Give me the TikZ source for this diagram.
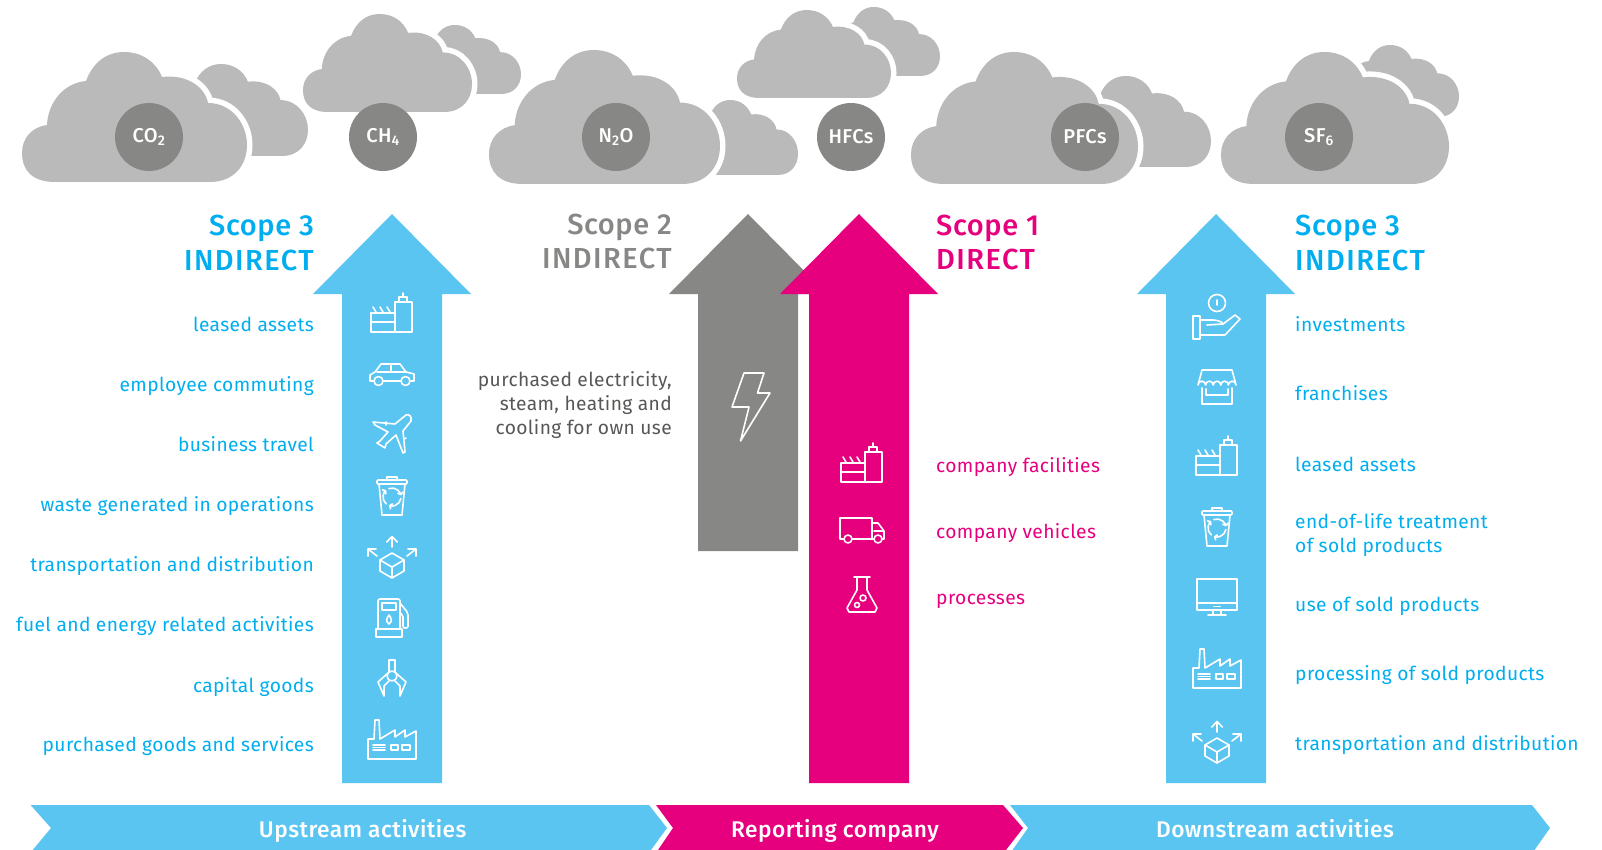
\documentclass[tikz,border=0pt]{standalone}
\usepackage{fontspec}
\setmainfont{Fira Sans}[LetterSpace=2]
\newfontfamily\medfont{Fira Sans Medium}[LetterSpace=2]
\usetikzlibrary{arrows.meta}
\definecolor{arrowblue}{HTML}{5BC5F2}
\definecolor{textblue}{HTML}{00AEEF}
\definecolor{scopepink}{HTML}{E6007E}
\definecolor{arrowgrey}{HTML}{878786}
\definecolor{cloudgrey}{HTML}{BABABA}
\definecolor{darktext}{HTML}{575756}
\newcommand{\cloudpath}{(33,130) .. controls (10,130) and (0,118) .. (0,101)
  .. controls (0,86) and (10,75) .. (25,73) .. controls (26,50) and (42,31) .. (64,29)
  .. controls (71,10) and (85,0) .. (102,0) .. controls (120,0) and (134,10) .. (140,25)
  .. controls (165,22) and (183,35) .. (186,51) .. controls (210,51) and (225,72) .. (225,93)
  .. controls (225,113) and (212,130) .. (188,130) -- cycle}
\newcommand{\backcloud}[4]{\fill[cloudgrey,shift={(#1,#2)},xscale=#3/225,yscale=#4/130] \cloudpath;}
\newcommand{\frontcloud}[4]{\fill[cloudgrey,preaction={draw=white,line width=11pt},shift={(#1,#2)},xscale=#3/225,yscale=#4/130] \cloudpath;}
\newcommand{\bigarrow}[4]{\fill[#4] (#1,214) -- ++(79,80) -- ++(-29,0) |- (#1-50,#3) |- (#1-50,294) -- ++(-29,0) -- cycle;}
\newcommand{\capsword}[1]{{\addfontfeature{LetterSpace=5}#1}}
\tikzset{
  iconline/.style={draw=white,line width=1.6pt,line join=round,line cap=round},
  gasnode/.style={circle,fill=arrowgrey,text=white,minimum size=68pt,inner sep=0pt,font=\medfont\fontsize{20}{22}\selectfont},
  listlabel/.style={font=\fontsize{19.2}{24}\selectfont,inner sep=0pt},
  leftlabel/.style={listlabel,anchor=mid east,yshift=-5pt,text=textblue},
  rightlabel/.style={listlabel,anchor=mid west,yshift=-5pt,text=textblue},
  pinklabel/.style={listlabel,anchor=mid west,yshift=-5pt,text=scopepink},
  blocklabel/.style={listlabel,align=left,anchor=west},
  scopetitle/.style={font=\medfont\fontsize{29}{34.5}\selectfont,inner sep=0pt},
  bandlabel/.style={anchor=mid,yshift=-6pt,text=white,font=\medfont\fontsize{22.7}{24}\selectfont,inner sep=0pt},
  pics/iconplant/.style={code={
    \draw[iconline] (4,-11) rectangle (21,19) (-20,0) rectangle (4,19) (-20,9) -- (4,9);
    \draw[iconline] (8,-11) -- (8,-16) -- (16,-16) -- (16,-11) (12,-16) -- (12,-20);
    \draw[iconline] (-18,-6) -- (-15,-1) (-11,-6) -- (-8,-1) (-4,-6) -- (-1,-1);
  }},
  pics/iconcar/.style={code={
    \draw[iconline] (-22,7) -- (-22,1) -- (-17,-2) -- (-11,-10) -- (8,-10) -- (14,-2) -- (22,0) -- (22,7) -- cycle;
    \draw[iconline] (-15,-2) -- (14,-2) (-1,-10) -- (-1,-2);
    \draw[iconline,fill=arrowblue] (-13.5,7) circle (4.5) (13.5,7) circle (4.5);
  }},
  pics/iconplane/.style={code={
    \draw[iconline] (19,-13) .. controls (20,-18) and (17,-20) .. (14,-19) -- (3,-10) -- (-19,-12) -- (-17,-9) -- (-4,-2)
      -- (-12,7) -- (-15,9) -- (-7,14) -- (-6,10) -- (4,1) -- (11,19) -- (13,18) -- (11,-3) -- cycle;
    \draw[iconline] (-6,-12) -- (-6,-9) (14,4) -- (12,5);
  }},
  pics/iconbin/.style={code={
    \draw[iconline,rounded corners=1pt] (-15,-16) rectangle (15,-12);
    \draw[iconline] (-5,-16) -- (-5,-19) -- (5,-19) -- (5,-16);
    \draw[iconline] (-13,-12) -- (-10,19) -- (10,19) -- (13,-12);
    \foreach \a in {10,130,250}
      \draw[iconline,-{Straight Barb[length=2pt,width=6pt]}] (0,1)+(\a:9) arc[start angle=\a,end angle=\a+100,radius=9];
  }},
  pics/iconboxes/.style={code={
    \draw[iconline] (0,-4) -- (12,3) -- (12,14) -- (0,21) -- (-12,14) -- (-12,3) -- cycle;
    \draw[iconline] (-12,3) -- (0,10) -- (12,3) (0,10) -- (0,21);
    \draw[iconline] (0,-10) -- (0,-20.5) (-5.3,-15) -- (0,-20.5) -- (5.3,-15);
    \draw[iconline] (-15,-1) -- (-24,-8) (-24,-1) -- (-24,-8) -- (-16,-8);
    \draw[iconline] (15,-1) -- (24,-8) (24,-1) -- (24,-8) -- (16,-8);
  }},
  pics/iconpump/.style={code={
    \draw[iconline,rounded corners=2pt] (-14,11) -- (-14,-19) -- (8,-19) -- (8,11);
    \draw[iconline] (-16,11) rectangle (10,19) (-10,-15) rectangle (4,-8);
    \draw[iconline] (-3,-3) .. controls (-1,0) and (1,3) .. (-3,6) .. controls (-7,3) and (-5,0) .. (-3,-3);
    \draw[iconline,rounded corners=2pt] (8,-15) -- (16,-5) -- (16,10) -- (11,10) -- (11,-3) -- (8,-5);
  }},
  pics/iconclaw/.style={code={
    \draw[iconline] (-3,-6) -- (-3,-18) -- (3,-18) -- (3,-6) (0,-2) circle (5);
    \draw[iconline] (-4,-5) -- (-14,4) -- (-8,18) -- (-8,8) -- (-3,3);
    \draw[iconline] (4,-5) -- (14,4) -- (8,18) -- (8,8) -- (3,3);
  }},
  pics/iconfactory/.style={code={
    \draw[iconline] (-24,20) -- (-24,0) -- (-18,0) -- (-17,-19) -- (-13,-19) -- (-12,0) -- (3,-9) -- (3,-2) -- (13,-9) -- (13,-2) -- (24,-8) -- (24,20) -- cycle;
    \draw[iconline] (-19,6) -- (-7,6) (-19,8.5) -- (-7,8.5) (-19,11) -- (-7,11);
    \draw[iconline] (-1,6) rectangle (6,11) (10,6) rectangle (18,11);
  }},
  pics/iconhand/.style={code={
    \draw[iconline] (0,-13) circle (8.5) (0,-16) -- (0,-11);
    \draw[iconline] (-24,0) rectangle (-17,23);
    \draw[iconline] (-17,4) -- (-4,4) .. controls (0,4) and (6,6) .. (6,8) -- (-10,9);
    \draw[iconline] (6,8) -- (18,-1) -- (23,3) -- (8,19) -- (-17,19);
  }},
  pics/iconshop/.style={code={
    \draw[iconline] (-15,-17) -- (15,-17) -- (19,-2) arc[start angle=0,end angle=-180,radius=3.8] arc[start angle=0,end angle=-180,radius=3.8]
      arc[start angle=0,end angle=-180,radius=3.8] arc[start angle=0,end angle=-180,radius=3.8] arc[start angle=0,end angle=-180,radius=3.8] -- cycle;
    \draw[iconline] (-15,1) -- (-15,17) -- (15,17) -- (15,1);
    \draw[iconline] (-11,2) -- (-11,8) -- (11,8) -- (11,2);
  }},
  pics/iconscreen/.style={code={
    \draw[iconline] (-20,-18) rectangle (20,13) (-20,6) -- (20,6) (-3,9.5) -- (3,9.5);
    \draw[iconline] (-4,13) -- (-4,18) (4,13) -- (4,18) (-9,18) -- (9,18);
  }},
  pics/icontruck/.style={code={
    \draw[iconline] (-22,9) -- (-22,-12) -- (10,-12) -- (10,9) -- cycle;
    \draw[iconline] (10,-7) -- (16,-7) -- (22,1) -- (22,9) -- (10,9) (12,1) -- (22,1);
    \draw[iconline,fill=scopepink] (-14,9) circle (4) (16,9) circle (4);
  }},
  pics/iconflask/.style={code={
    \draw[iconline] (-8,-17) -- (8,-17) (-5,-17) -- (-5,-4) -- (-15,14) -- (-13,18) -- (13,18) -- (15,14) -- (5,-4) -- (5,-17);
    \draw[iconline] (1,4) circle (3) (-5,11) circle (2.5);
  }}
}
\begin{document}
\begin{tikzpicture}[x=1pt,y=-1pt]
\useasboundingbox (0,0) rectangle (1602,850);
% clouds
\backcloud{819}{7}{121}{69}
\frontcloud{737}{10}{154}{88}
\backcloud{149}{64}{159}{92}
\frontcloud{22}{52}{225}{130}
\backcloud{400}{25}{121}{69}
\frontcloud{303}{14}{169}{98}
\backcloud{674}{100}{124}{75}
\frontcloud{489}{50}{231}{134}
\backcloud{1055}{76}{156}{91}
\frontcloud{911}{52}{227}{132}
\backcloud{1333}{45}{126}{72}
\frontcloud{1221}{52}{228}{132}
\node[gasnode] (co2) at (149,137) {CO\textsubscript{2}};
\node[gasnode] (ch4) at (383,137) {CH\textsubscript{4}};
\node[gasnode] (n2o) at (616,137) {N\textsubscript{2}O};
\node[gasnode] (hfcs) at (851,137) {HFCs};
\node[gasnode] (pfcs) at (1085,137) {PFCs};
\node[gasnode] (sf6) at (1319,137) {SF\textsubscript{6}};
% scope arrows
\bigarrow{392}{214}{783}{arrowblue}
\bigarrow{748}{214}{551}{arrowgrey}
\bigarrow{859}{214}{783}{scopepink}
\bigarrow{1216}{214}{783}{arrowblue}
% titles
\node[scopetitle,anchor=east,align=right,text=textblue] (upscope) at (314,243) {Scope 3\\\capsword{INDIRECT}};
\node[scopetitle,anchor=east,align=right,text=arrowgrey] (energyscope) at (672,241.5) {Scope 2\\\capsword{INDIRECT}};
\node[scopetitle,anchor=west,align=left,text=scopepink] (ownscope) at (936,242.5) {Scope 1\\\capsword{DIRECT}};
\node[scopetitle,anchor=west,align=left,text=textblue] (downscope) at (1295,243) {Scope 3\\\capsword{INDIRECT}};
% upstream
\node[leftlabel] (up1) at (314,324) {leased assets};
\node[leftlabel] (up2) at (314,384) {employee commuting};
\node[leftlabel] (up3) at (314,443.5) {business travel};
\node[leftlabel] (up4) at (314,504) {waste generated in operations};
\node[leftlabel] (up5) at (314,564) {transportation and distribution};
\node[leftlabel] (up6) at (314,624) {fuel and energy related activities};
\node[leftlabel] (up7) at (314,684.5) {capital goods};
\node[leftlabel] (up8) at (314,744) {purchased goods and services};
\pic at (391,313) {iconplant};
\pic at (392,374) {iconcar};
\pic at (392,434) {iconplane};
\pic at (392,496) {iconbin};
\pic at (392,557) {iconboxes};
\pic at (392,618) {iconpump};
\pic at (392,678) {iconclaw};
\pic at (392,739) {iconfactory};
% purchased energy
\node[listlabel,anchor=east,align=right,text=darktext] (energy) at (672,405) {purchased electricity,\\steam, heating and\\cooling for own use};
\draw[iconline] (744,373) -- (764,373) -- (757.5,393) -- (770,393) -- (740.5,441) -- (749,407) -- (732,407) -- cycle;
% company
\node[pinklabel] (own1) at (936,465) {company facilities};
\node[pinklabel] (own2) at (936,531) {company vehicles};
\node[pinklabel] (own3) at (936,597) {processes};
\pic at (861,463) {iconplant};
\pic at (862,530) {icontruck};
\pic at (862,594) {iconflask};
% downstream
\node[rightlabel] (down1) at (1295,324) {investments};
\node[rightlabel] (down2) at (1295,393) {franchises};
\node[rightlabel] (down3) at (1295,464) {leased assets};
\node[blocklabel,text=textblue] (down4) at (1295,535.5) {end-of-life treatment\\of sold products};
\node[rightlabel] (down5) at (1295,604) {use of sold products};
\node[rightlabel] (down6) at (1295,673) {processing of sold products};
\node[rightlabel] (down7) at (1295,743) {transportation and distribution};
\pic at (1217,316) {iconhand};
\pic at (1217,387) {iconshop};
\pic at (1216,456) {iconplant};
\pic at (1217,527) {iconbin};
\pic at (1217,597) {iconscreen};
\pic at (1217,668) {iconfactory};
\pic at (1217,742) {iconboxes};
% bottom bands
\fill[arrowblue] (30.6,805) -- (649,805) -- (667,828) -- (651,850) -- (32.7,850) -- (51,828) -- cycle;
\fill[scopepink] (656,805) -- (1003,805) -- (1023,828) -- (1006,850) -- (658,850) -- (673,828) -- cycle;
\fill[arrowblue] (1010,805) -- (1532,805) -- (1550,828) -- (1534.5,850) -- (1012.5,850) -- (1028,828) -- cycle;
\node[bandlabel] (upband) at (362.7,829) {Upstream activities};
\node[bandlabel] (ownband) at (835,829) {Reporting company};
\node[bandlabel] (downband) at (1275,829) {Downstream activities};
\end{tikzpicture}
\end{document}
